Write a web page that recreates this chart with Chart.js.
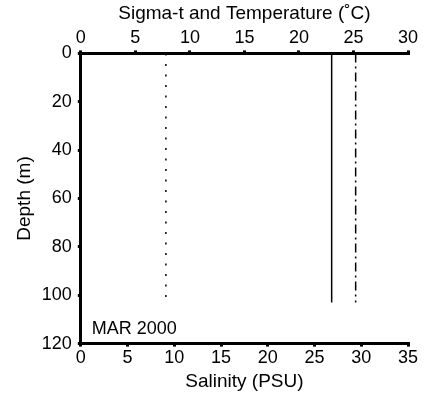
<!DOCTYPE html>
<html>
<head>
<meta charset="utf-8">
<script src="https://cdn.jsdelivr.net/npm/chart.js@4/dist/chart.umd.min.js"></script>
<style>
  html, body { margin: 0; padding: 0; background: #fff; }
  #wrap { width: 438px; height: 400px; }
</style>
</head>
<body>
<div id="wrap"><canvas id="profile" width="438" height="400"></canvas></div>
<script>
// depth profile, March 2000
const depths = [0, 103];
const temperature = [7.8, 7.8];
const sigmaT = [23.0, 23.0];
const salinity = [29.4, 29.4];
const depthTicks = [0, 20, 40, 60, 80, 100, 120];
const topTicks = [0, 5, 10, 15, 20, 25, 30];
const bottomTicks = [0, 5, 10, 15, 20, 25, 30, 35];
const panelLabel = "MAR 2000";

function toPoints(xs) {
    return xs.map(function (x, i) { return { x: x, y: depths[i] }; });
}

Chart.defaults.font.family = "'Liberation Sans', Arial, sans-serif";
Chart.defaults.color = "#000";

const panelLabelPlugin = {
    id: "panelLabel",
    afterDatasetsDraw(chart) {
        const ctx = chart.ctx;
        const area = chart.chartArea;
        ctx.save();
        ctx.font = "18px 'Liberation Sans', Arial, sans-serif";
        ctx.fillStyle = "#000";
        ctx.textBaseline = "alphabetic";
        ctx.fillText(panelLabel, area.left + 11, area.bottom - 10);
        ctx.restore();
    }
};

function axisStyle(tickValues, pad) {
    return {
        border: { display: true, color: "#000", width: 3 },
        grid: { drawOnChartArea: false, color: "#000", tickLength: 3, lineWidth: 3 },
        afterBuildTicks: function (axis) {
            axis.ticks = tickValues.map(function (v) { return { value: v }; });
        },
        ticks: { font: { size: 18 }, color: "#000", padding: pad, maxRotation: 0, autoSkip: false }
    };
}

const xTop = Object.assign(axisStyle(topTicks, 2), {
    type: "linear", position: "top", min: 0, max: 30,
    title: { display: true, text: "Sigma-t and Temperature (˚C)", font: { size: 19 }, color: "#000", padding: { top: 0, bottom: 0 } }
});
const xBottom = Object.assign(axisStyle(bottomTicks, 1), {
    type: "linear", position: "bottom", min: 0, max: 35,
    title: { display: true, text: "Salinity (PSU)", font: { size: 19 }, color: "#000", padding: { top: 0, bottom: 0 } }
});
const yDepth = Object.assign(axisStyle(depthTicks, 6), {
    type: "linear", position: "left", min: 0, max: 120, reverse: true,
    title: { display: true, text: "Depth (m)", font: { size: 19 }, color: "#000", padding: { top: 0, bottom: 0 } }
});

new Chart(document.getElementById("profile"), {
    type: "scatter",
    data: {
        datasets: [
            {
                label: "Temperature",
                data: toPoints(temperature),
                xAxisID: "xTop", yAxisID: "y",
                showLine: true, pointRadius: 0,
                borderColor: "#000", borderWidth: 1.5, borderDash: [2, 8.5]
            },
            {
                label: "Sigma-t",
                data: toPoints(sigmaT),
                xAxisID: "xTop", yAxisID: "y",
                showLine: true, pointRadius: 0,
                borderColor: "#000", borderWidth: 1.5
            },
            {
                label: "Salinity",
                data: toPoints(salinity),
                xAxisID: "xBottom", yAxisID: "y",
                showLine: true, pointRadius: 0,
                borderColor: "#000", borderWidth: 1.5, borderDash: [9, 4, 2, 4]
            }
        ]
    },
    options: {
        responsive: false,
        animation: false,
        layout: { padding: { left: 13, right: 30, top: 2, bottom: 7 } },
        plugins: { legend: { display: false }, tooltip: { enabled: false } },
        scales: { xTop: xTop, xBottom: xBottom, y: yDepth }
    },
    plugins: [panelLabelPlugin]
});
</script>
</body>
</html>
